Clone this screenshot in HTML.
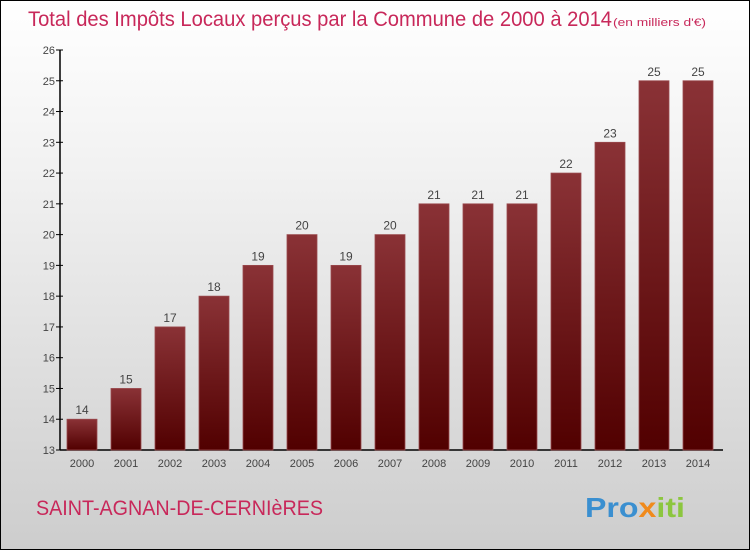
<!DOCTYPE html>
<html><head><meta charset="utf-8"><style>
body{margin:0}
#c{position:relative;width:748px;height:548px;border:1px solid #000;background:linear-gradient(#fff,#f2f2f2 30%,#cdcdcd);overflow:hidden;font-family:"Liberation Sans",sans-serif}
</style></head><body>
<div id="c">
<svg width="748" height="548">
<defs><linearGradient id="g" x1="0" y1="0" x2="0" y2="1"><stop offset="0" stop-color="#8a3236"/><stop offset="1" stop-color="#510000"/></linearGradient></defs>
<text x="27" y="25" font-size="21" fill="#c8285a" textLength="584" lengthAdjust="spacingAndGlyphs">Total des Impôts Locaux perçus par la Commune de 2000 à 2014</text>
<text x="612" y="25" font-size="11" fill="#c8285a" textLength="93" lengthAdjust="spacingAndGlyphs">(en milliers d'€)</text>
<g id="plot"></g>
<text x="35" y="514" font-size="21" fill="#c8285a" textLength="287" lengthAdjust="spacingAndGlyphs">SAINT-AGNAN-DE-CERNIèRES</text>
<text x="584" y="516" font-size="28" font-weight="bold" textLength="100" lengthAdjust="spacingAndGlyphs"><tspan fill="#3a8fd0">Pro</tspan><tspan fill="#f08a1c">x</tspan><tspan fill="#8cc63f">iti</tspan></text>
</svg></div>
<script>
const categories=["2000","2001","2002","2003","2004","2005","2006","2007","2008","2009","2010","2011","2012","2013","2014"];
const values=[14,15,17,18,19,20,19,20,21,21,21,22,23,25,25];
const ticks=[13,14,15,16,17,18,19,20,21,22,23,24,25,26];
const NS="http://www.w3.org/2000/svg";
const g=document.getElementById('plot');
const y=v=>449-(v-13)*30.77;
const x=i=>81+i*44;
function mk(t,a,txt){const e=document.createElementNS(NS,t);for(const k in a)e.setAttribute(k,a[k]);if(txt!=null)e.textContent=txt;g.appendChild(e);return e;}
const ax=mk('line',{x1:59,y1:y(26),x2:59,y2:449,stroke:'#000','stroke-width':1.5});


const bx=mk('line',{x1:59,y1:449,x2:722,y2:449,stroke:'#000','stroke-width':1.5});


ticks.forEach(t=>{
 const l=mk('line',{x1:55,y1:y(t),x2:62,y2:y(t),stroke:'#000'});
 
 
 const tx=mk('text',{x:54,y:y(t)+4,'font-size':11,fill:'#444','text-anchor':'end'},t);
 
 
});
categories.forEach((c,i)=>{
 const v=values[i];
 const r=mk('rect',{x:x(i)-15,y:y(v),width:30,height:449-y(v),fill:'url(#g)',stroke:'#9a4a4e','stroke-width':0.8});
 
 
 const vl=mk('text',{x:x(i),y:y(v)-5,'font-size':12,fill:'#444','text-anchor':'middle'},v);
 
 
 const xl=mk('text',{x:x(i),y:466,'font-size':11,fill:'#444','text-anchor':'middle'},c);
 
 
});
</script>
</body></html>
